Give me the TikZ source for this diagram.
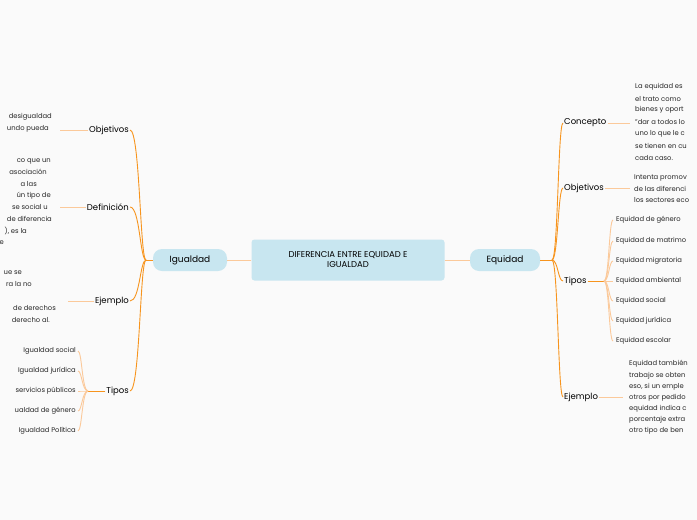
\documentclass[tikz,border=0pt]{standalone}
\usepackage{fontspec}
\setmainfont{Poppins}
\definecolor{pblue}{HTML}{C8E6F0}
\definecolor{brc}{HTML}{F7941D}
\definecolor{lfc}{HTML}{FBC99A}
\begin{document}
\begin{tikzpicture}[x=1pt,y=-1pt,
  br/.style={draw=brc,line width=0.9pt},
  lf/.style={draw=lfc,line width=0.9pt},
  lab/.style={font=\fontsize{8.5}{9}\selectfont,inner sep=1pt},
  sm/.style={font=\fontsize{6.8}{7}\selectfont,inner sep=0pt,text=black!85},
  pill/.style={fill=pblue,rounded corners=9pt,minimum height=22pt,font=\fontsize{9}{10}\selectfont}]
\useasboundingbox (0,0) rectangle (697,520);
\fill[black!2] (0,0) rectangle (697,520);
\clip (0,0) rectangle (697,520);
\node[fill=pblue,rounded corners=3pt,minimum width=193pt,minimum height=41pt,align=center,font=\fontsize{8.5}{10}\selectfont] (c) at (348,260) {DIFERENCIA ENTRE EQUIDAD E\\IGUALDAD};
\node[pill,minimum width=74pt] (ig) at (190,260) {Igualdad};
\node[pill,minimum width=70pt] (eq) at (505,260) {Equidad};
\draw[lf] (c.west) -- (ig.east);
\draw[lf] (c.east) -- (eq.west);
% left branches
\coordinate (lj) at (146,260);
\draw[br] (ig.west) -- (lj);
\foreach \n/\t/\y in {lo/Objetivos/130,ld/Definición/207,le/Ejemplo/301,lt/Tipos/391}{
  \node[lab,anchor=east] (\n) at (130,\y) {\t};
  \draw[br] (lj) .. controls (140,260) and (140,\y) .. (\n.east);
}
\draw[lf] (lo.west) -- (60,130);
\draw[lf] (ld.west) -- (60,207);
\draw[lf] (le.west) -- (68,301);
\foreach \e/\y/\t in {52/117/desigualdad,49/129/undo pueda}{\node[sm,anchor=east] at (\e,\y) {\t};}
\foreach \e/\y/\t in {51/161/co que un,47/172/asociación,,37/184/a las,51/196/ún tipo de,48/207/se social u,52/219/de diferencia,27/231/{), es la},4/243/e}{\node[sm,anchor=east] at (\e,\y) {\t};}
\foreach \e/\y/\t in {22/273/ue se,32/284/ra la no,56/308/de derechos,50/320/derecho al.}{\node[sm,anchor=east] at (\e,\y) {\t};}
\coordinate (ltj) at (88,391);
\draw[br] (lt.west) -- (ltj);
\foreach \y/\t in {351/Igualdad social,371/Igualdad jurídica,391/servicios públicos,411/ualdad de género,431/Igualdad Política}{
  \node[sm,anchor=east] (x) at (76,\y) {\t};
  \draw[lf] (ltj) .. controls (82,391) and (82,\y) .. (78,\y);
}
% right branches
\coordinate (rj) at (552,260);
\draw[br] (eq.east) -- (rj);
\foreach \n/\t/\y in {ro/Concepto/123,rb/Objetivos/188,rt/Tipos/281,re/Ejemplo/397}{
  \node[lab,anchor=west] (\n) at (563,\y) {\t};
  \draw[br] (rj) .. controls (558,260) and (558,\y) .. (\n.west);
}
\draw[lf] (ro.east) -- (630,123);
\draw[lf] (rb.east) -- (630,188);
\draw[lf] (re.east) -- (623,397);
\foreach \y/\t in {87/La equidad es,99/el trato como,110/bienes y oport,122/"dar a todos lo,134/uno lo que le c,146/se tienen en cu,158/cada caso.}{\node[sm,anchor=west] at (635,\y) {\t};}
\foreach \y/\t in {178/Intenta promov,189/de las diferenci,200/los sectores eco}{\node[sm,anchor=west] at (634,\y) {\t};}
\foreach \y/\t in {364/Equidad también,376/trabajo se obten,387/{eso, si un emple},398/otros por pedido,409/equidad indica c,420/porcentaje extra,431/otro tipo de ben}{\node[sm,anchor=west] at (629,\y) {\t};}
\coordinate (rtj) at (604,281);
\draw[br] (rt.east) -- (rtj);
\foreach \y/\t in {220/Equidad de género,241/Equidad de matrimo,261/Equidad migratoria,281/Equidad ambiental,301/Equidad social,321/Equidad jurídica,341/Equidad escolar}{
  \node[sm,anchor=west] at (616,\y) {\t};
  \draw[lf] (rtj) .. controls (609,281) and (609,\y) .. (613,\y);
}
\end{tikzpicture}
\end{document}
